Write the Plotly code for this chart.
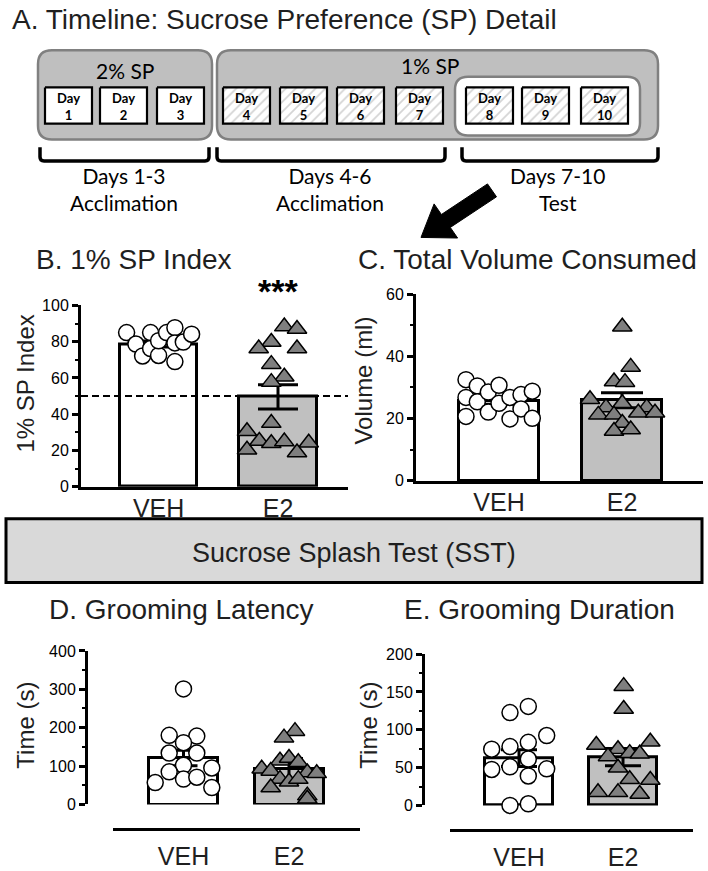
import numpy as np
import plotly.graph_objects as go

W, H = 708, 871

# ---------------- data ----------------
groups = ["VEH", "E2"]

# B. 1% SP index
sp_veh = [85.0, 78.7, 72.1, 85.0, 76.2, 72.4, 80.5, 85.0, 87.7, 79.3, 69.0, 79.8, 84.1]
sp_e2 = [88.3, 87.0, 79.8, 76.2, 76.2, 67.6, 60.7, 57.7, 35.1, 30.6, 20.4, 25.2, 24.0, 24.9, 24.3, 18.9]
sp_mean = [78.7, 49.6]
sp_sem = [1.6, 6.7]
sp_chance = 50
sp_sig = "***"

# C. Total volume consumed (ml)
vol_veh = [32.5, 26.8, 20.7, 30.5, 25.4, 28.5, 22.1, 30.7, 24.9, 26.8, 19.9, 27.7, 23.1, 28.8, 20.1]
vol_e2 = [49.5, 36.6, 31.9, 31.7, 26.2, 24.9, 23.6, 23.6, 21.2, 21.2, 21.9, 21.9, 18.6, 16.0, 16.5]
vol_mean = [25.6, 25.9]
vol_sem = [1.0, 2.4]

# D. Grooming latency (s)
lat_veh = [301, 180, 178, 161, 134, 134, 102, 85, 95, 57, 66, 71, 44]
lat_e2 = [191, 174, 114, 121, 110, 93, 87, 83, 81, 66, 59, 66, 44, 23, 15]
lat_mean = [121, 93]
lat_sem = [20, 27]

# E. Grooming duration (s)
dur_veh = [130.9, 122.7, 92.4, 83.4, 77.8, 74.3, 61.3, 51.0, 47.5, 48.4, 38.9, 0.0, 2.2]
dur_e2 = [157.7, 127.4, 79.9, 84.2, 74.3, 69.1, 68.3, 64.8, 49.7, 34.6, 33.7, 17.3, 17.3, 15.1]
dur_mean = [62.6, 63.9]
dur_sem = [11.0, 11.5]

# horizontal scatter offsets of the points (pixels from bar centre)
sp_veh_jit = [-32, -22.7, -16, -8, -8, 0, 0, 8, 16.3, 16.3, 16.3, 24.7, 33]
sp_e2_jit = [6.3, 19, -6.7, -19.3, 19, -6.7, 6.3, -6.7, -6.7, -31, -31, -18.7, -6.7, 6.3, 30.7, 19]
vol_veh_jit = [-33, -33, -33, -21.7, -21.7, -10.7, -10.7, 0, 0, 11, 11, 22, 22, 33.3, 33.3]
vol_e2_jit = [0.3, 8.7, -8, 3, -32, 0.3, -16, 24.7, -23.7, -8, 16.3, 33, 0.3, -8, 8.7]
lat_veh_jit = [0, -14.3, 13.3, 0, -14.3, 13.3, 0, -14.3, 28.3, -28.3, 0, 13.3, 28.3]
lat_e2_jit = [6, -5, -9, 0, 9.3, -27.3, -18.3, 18.3, 27.7, -9, 0, 9.3, -18.3, 18.3, 18.3]
dur_veh_jit = [9.3, -9, 27.7, 9.3, -9, -27.3, 9.3, -9, -27.3, 27.7, 9.3, -9, 9.3]
dur_e2_jit = [0.7, 0.7, -26.7, 27.3, -5, 6.7, 16.7, -15, -5, 6.7, 27.3, -25, -5, 16.7]

# timeline text
timeline_title = "A. Timeline: Sucrose Preference (SP) Detail"
phase_labels = ["2% SP", "1% SP"]
day_numbers = list(range(1, 11))
bracket_labels = ["Days 1-3<br>Acclimation", "Days 4-6<br>Acclimation", "Days 7-10<br>Test"]
banner_text = "Sucrose Splash Test (SST)"
panel_titles = ["B. 1% SP Index", "C. Total Volume Consumed", "D. Grooming Latency", "E. Grooming Duration"]
y_titles = ["1% SP Index", "Volume (ml)", "Time (s)", "Time (s)"]

# ---------------- styling / geometry ----------------
FONT = "Liberation Sans, Arial, sans-serif"
TLF = "Lato, sans-serif"
TXT = "#1f1f1f"
GRAY_BOX = "#bfbfbf"
GRAY_EDGE = "#808080"
BAR_E2 = "#c0c0c0"
TRI = "#7f7f7f"


def px_x(v):
    return v / W


def px_y(v):
    return 1 - v / H


fig = go.Figure()

# overlay axis in pixel coordinates for the diagram parts
fig.update_layout(
    xaxis=dict(domain=[0, 1], range=[0, W], visible=False, fixedrange=True),
    yaxis=dict(domain=[0, 1], range=[H, 0], visible=False, fixedrange=True),
)

shapes = []
annotations = []


def rrect(x0, y0, x1, y1, r):
    return (f"M{x0+r},{y0} L{x1-r},{y0} Q{x1},{y0} {x1},{y0+r} L{x1},{y1-r} "
            f"Q{x1},{y1} {x1-r},{y1} L{x0+r},{y1} Q{x0},{y1} {x0},{y1-r} "
            f"L{x0},{y0+r} Q{x0},{y0} {x0+r},{y0} Z")


# gray phase boxes
for (x0, x1) in [(38, 212), (217, 658)]:
    shapes.append(dict(type="path", xref="x", yref="y", path=rrect(x0, 43, x1, 134, 14),
                       fillcolor=GRAY_BOX, line=dict(color=GRAY_EDGE, width=2.5), layer="below"))
# inner white test box
shapes.append(dict(type="path", xref="x", yref="y", path=rrect(455, 70, 640, 130, 13),
                   fillcolor="white", line=dict(color=GRAY_EDGE, width=2.5), layer="below"))

# day boxes
day_left = [45, 100, 157, 223, 280, 337, 396, 466, 522, 581]
DW, DY0, DY1 = 47, 81, 118


def boxes(xs):
    X, Y = [], []
    for x0 in xs:
        X += [x0, x0 + DW, x0 + DW, x0, x0, None]
        Y += [DY0, DY0, DY1, DY1, DY0, None]
    return X, Y


bx, by = boxes(day_left[:3])
fig.add_trace(go.Scatter(x=bx, y=by, mode="lines", fill="toself", fillcolor="white",
                         line=dict(color="black", width=2.2), hoverinfo="skip"))
hx, hy = boxes(day_left[3:])
fig.add_trace(go.Scatter(x=hx, y=hy, mode="lines", fill="toself", fillcolor="white",
                         fillpattern=dict(shape="/", fgcolor="#a9a9a9", bgcolor="white", size=7, solidity=0.25),
                         line=dict(color="black", width=2.2), hoverinfo="skip"))
for d, x0 in zip(day_numbers, day_left):
    annotations.append(dict(xref="x", yref="y", x=x0 + DW / 2, y=(DY0 + DY1) / 2 + 1,
                            text=f"<b>Day<br>{d}</b>", showarrow=False,
                            font=dict(family=TLF, size=13, color="black"), align="center"))

annotations.append(dict(xref="x", yref="y", x=125, y=64, text=phase_labels[0], showarrow=False,
                        font=dict(family=TLF, size=21, color="black")))
annotations.append(dict(xref="x", yref="y", x=430, y=59, text=phase_labels[1], showarrow=False,
                        font=dict(family=TLF, size=21, color="black")))

# brackets
for (x0, x1), lab, cx in zip([(40, 209), (217, 445), (462, 658)], bracket_labels, [124, 330, 557]):
    shapes.append(dict(type="path", xref="x", yref="y",
                       path=f"M{x0},142 L{x0},152 Q{x0},156 {x0+4},156 L{x1-4},156 Q{x1},156 {x1},152 L{x1},142",
                       line=dict(color="black", width=3.5), layer="below"))
    annotations.append(dict(xref="x", yref="y", x=cx, y=185, text=lab, showarrow=False,
                            font=dict(family=TLF, size=21, color="black"), align="center"))

# arrow
T = np.array([492.0, 186.0])
P = np.array([421.0, 234.0])
u = (P - T) / np.linalg.norm(P - T)
n = np.array([-u[1], u[0]])
S = P - u * 30
pts = [T + n * 8, S + n * 8, S + n * 21, P, S - n * 21, S - n * 8, T - n * 8]
shapes.append(dict(type="path", xref="x", yref="y",
                   path="M" + " L".join(f"{p[0]:.1f},{p[1]:.1f}" for p in pts) + " Z",
                   fillcolor="black", line=dict(color="black", width=1), layer="below"))

# banner
shapes.append(dict(type="rect", xref="x", yref="y", x0=6, x1=702, y0=521, y1=586,
                   fillcolor="#d9d9d9", line=dict(color="black", width=3), layer="below"))
annotations.append(dict(xref="x", yref="y", x=354, y=556, text=banner_text, showarrow=False,
                        font=dict(family=FONT, size=27, color=TXT)))

# titles
annotations.append(dict(xref="x", yref="y", x=10, y=12, xanchor="left", text=timeline_title,
                        showarrow=False, font=dict(family=FONT, size=28, color=TXT)))
for t, (x, y) in zip(panel_titles, [(34, 256), (356, 256), (47, 613), (402, 613)]):
    annotations.append(dict(xref="x", yref="y", x=x, y=y, xanchor="left", text=t,
                            showarrow=False, font=dict(family=FONT, size=28, color=TXT)))
for t, (x, y) in zip(y_titles, [(26, 383), (364, 380), (26, 732), (369, 732)]):
    annotations.append(dict(xref="x", yref="y", x=x, y=y, text=t, textangle=-90,
                            showarrow=False, font=dict(family=FONT, size=24, color=TXT)))

# ---------------- data panels ----------------
panels = [
    dict(vals=(sp_veh, sp_e2), jit=(sp_veh_jit, sp_e2_jit), mean=sp_mean, sem=sp_sem,
         yax=81, xl=81, xr=348, c=(158.6, 278), yb=488.3, yt=303.3, ymax=100, dt=20, mdt=10,
         bw=77.3, cap=20, xline=None),
    dict(vals=(vol_veh, vol_e2), jit=(vol_veh_jit, vol_e2_jit), mean=vol_mean, sem=vol_sem,
         yax=416, xl=416, xr=703, c=(499, 622), yb=482.3, yt=291.7, ymax=60, dt=20, mdt=10,
         bw=80, cap=21, xline=None),
    dict(vals=(lat_veh, lat_e2), jit=(lat_veh_jit, lat_e2_jit), mean=lat_mean, sem=lat_sem,
         yax=86, xl=113, xr=360, c=(183.5, 289), yb=812.3, yt=655.7, ymax=400, dt=100, mdt=50,
         bw=69, cap=14, xline=837.3),
    dict(vals=(dur_veh, dur_e2), jit=(dur_veh_jit, dur_e2_jit), mean=dur_mean, sem=dur_sem,
         yax=423, xl=450, xr=693, c=(519, 623), yb=813.3, yt=659, ymax=200, dt=50, mdt=25,
         bw=68, cap=18, xline=838),
]

for i, p in enumerate(panels):
    k = i + 2
    xa, ya = f"x{k}", f"y{k}"
    sp = p["c"][1] - p["c"][0]
    xr0 = -(p["c"][0] - p["xl"]) / sp
    xr1 = 1 + (p["xr"] - p["c"][1]) / sp
    xdict = dict(domain=[px_x(p["xl"]), px_x(p["xr"])], range=[xr0, xr1], tickvals=[0, 1],
                 ticktext=groups, ticks="", showline=True, linewidth=3, linecolor="black",
                 showgrid=False, zeroline=False, fixedrange=True,
                 tickfont=dict(family=FONT, size=25, color=TXT))
    ydict = dict(domain=[px_y(p["yb"]), px_y(p["yt"])], range=[0, p["ymax"]], dtick=p["dt"],
                 ticks="outside", ticklen=6, tickwidth=2.5, tickcolor="black",
                 minor=dict(ticks="outside", ticklen=3.5, tickwidth=2, tickcolor="black", dtick=p["mdt"]),
                 showline=True, linewidth=3, linecolor="black", showgrid=False, zeroline=False,
                 fixedrange=True, tickfont=dict(family=FONT, size=16, color="black"))
    if p["xline"] is None:
        xdict.update(anchor=ya, ticklabelstandoff=-3)
        ydict.update(anchor=xa)
    else:
        xdict.update(anchor="free", position=px_y(p["xline"]), ticklabelstandoff=4)
        ydict.update(anchor="free", position=px_x(p["yax"]))
    fig.update_layout(**{f"xaxis{k}": xdict, f"yaxis{k}": ydict})

    fig.add_trace(go.Bar(x=[0, 1], y=p["mean"], width=p["bw"] / sp,
                         marker=dict(color=["white", BAR_E2], line=dict(color="black", width=3)),
                         error_y=dict(type="data", array=p["sem"], color="black", thickness=3, width=p["cap"]),
                         xaxis=xa, yaxis=ya, hoverinfo="skip"))
    veh, e2 = p["vals"]
    jv, je = p["jit"]
    fig.add_trace(go.Scatter(x=[0 + j / sp for j in jv], y=veh, mode="markers", xaxis=xa, yaxis=ya,
                             cliponaxis=False,
                             marker=dict(symbol="circle", size=16, color="white",
                                         line=dict(color="black", width=1.5))))
    fig.add_trace(go.Scatter(x=[1 + j / sp for j in je], y=e2, mode="markers", xaxis=xa, yaxis=ya,
                             cliponaxis=False,
                             marker=dict(symbol="triangle-up", size=17, color=TRI,
                                         line=dict(color="black", width=1.5))))

# chance line and significance in panel B
shapes.append(dict(type="line", xref="x2 domain", yref="y2", x0=0, x1=1, y0=sp_chance, y1=sp_chance,
                   line=dict(color="black", width=2, dash="7px,4px"), layer="above"))
annotations.append(dict(xref="x2", yref="y2", x=1, y=100, yshift=14, text=f"<b>{sp_sig}</b>",
                        showarrow=False, font=dict(family=FONT, size=34, color="black")))

fig.update_layout(width=W, height=H, margin=dict(l=0, r=0, t=0, b=0),
                  paper_bgcolor="white", plot_bgcolor="rgba(0,0,0,0)",
                  showlegend=False, bargap=0, shapes=shapes, annotations=annotations)

fig.write_html("out.html", config={"displayModeBar": False},
               post_script="document.body.style.margin='0px';")
